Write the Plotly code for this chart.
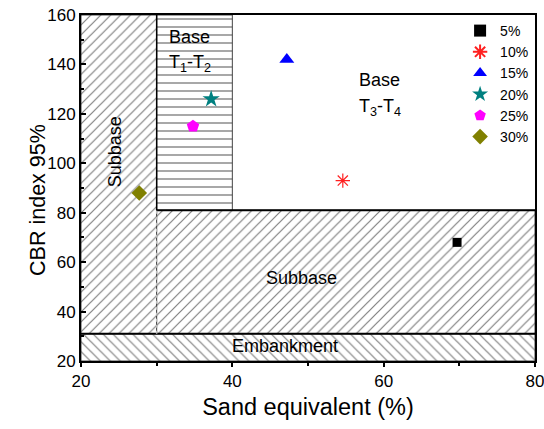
import plotly.graph_objects as go

# ---- data ----
series_names = ["5%", "10%", "15%", "20%", "25%", "30%"]
sand_equivalent = [69.7, 54.6, 47.2, 37.2, 34.8, 27.7]
cbr_index = [68.0, 93.0, 142.0, 126.0, 115.0, 88.0]
symbols = ["square", "asterisk-open", "triangle-up", "star", "pentagon", "diamond"]
colors = ["#000000", "#FF2020", "#0000FF", "#008080", "#FF00FF", "#808000"]
sizes = [9, 12, 13, 13, 13, 12]

# zones: (x0, x1, y0, y1, pattern)
zone_subbase_left = (20, 30, 31, 160, "/")
zone_subbase_low = (30, 80, 31, 81, "/")
zone_embankment = (20, 80, 20, 31, "\\")
zone_base_t12 = (30, 40, 81, 160, "-")
zones = [zone_subbase_left, zone_subbase_low, zone_embankment, zone_base_t12]

x_ticks = [20, 40, 60, 80]
y_ticks = [20, 40, 60, 80, 100, 120, 140, 160]

FONT = "Liberation Sans, Arial, sans-serif"

fig = go.Figure()

for (x0, x1, y0, y1, pat) in zones:
    fig.add_trace(go.Scatter(
        x=[x0, x1, x1, x0, x0], y=[y0, y0, y1, y1, y0],
        mode="lines", fill="toself", fillcolor="white",
        fillpattern=dict(shape=pat, size=7 if pat != "-" else 8, solidity=0.17,
                         fgcolor="black", bgcolor="white"),
        line=dict(color="#444444", width=1),
        showlegend=False, hoverinfo="skip"))

# boundary lines
fig.add_trace(go.Scatter(x=[20, 80], y=[31, 31], mode="lines",
                         line=dict(color="black", width=2),
                         showlegend=False, hoverinfo="skip"))
fig.add_trace(go.Scatter(x=[30, 80], y=[81, 81], mode="lines",
                         line=dict(color="black", width=2),
                         showlegend=False, hoverinfo="skip"))
fig.add_trace(go.Scatter(x=[30, 30], y=[81, 160], mode="lines",
                         line=dict(color="black", width=1.5),
                         showlegend=False, hoverinfo="skip"))
fig.add_trace(go.Scatter(x=[30, 30], y=[31, 81], mode="lines",
                         line=dict(color="#BBBBBB", width=1.5, dash="dot"),
                         showlegend=False, hoverinfo="skip"))

for i, name in enumerate(series_names):
    sym = symbols[i]
    marker = dict(symbol=sym, size=sizes[i], color=colors[i])
    if sym.endswith("-open"):
        marker["line"] = dict(color=colors[i], width=1.2)
    else:
        marker["line"] = dict(width=0)
    fig.add_trace(go.Scatter(x=[sand_equivalent[i]], y=[cbr_index[i]],
                             mode="markers", name=name, marker=marker))

ann_font = dict(family=FONT, size=18, color="black")
annotations = [
    dict(x=34.4, y=151, text="Base", showarrow=False, font=ann_font),
    dict(x=34.4, y=140.5, text="T<sub>1</sub>-T<sub>2</sub>", showarrow=False, font=ann_font),
    dict(x=59.5, y=133.5, text="Base", showarrow=False, font=ann_font),
    dict(x=59.5, y=122.5, text="T<sub>3</sub>-T<sub>4</sub>", showarrow=False, font=ann_font),
    dict(x=24.5, y=104.5, text="Subbase", showarrow=False, textangle=-90, font=ann_font),
    dict(x=49.2, y=53.7, text="Subbase", showarrow=False, font=ann_font),
    dict(x=47.0, y=26.0, text="Embankment", showarrow=False, font=ann_font),
]
for a in annotations:
    a["xref"] = "x"
    a["yref"] = "y"
# y-axis title placed as paper annotation to match reference position
annotations.append(dict(xref="paper", yref="paper", x=-0.126, y=0.465,
                        text="CBR index 95%", showarrow=False, textangle=-90,
                        font=dict(family=FONT, size=21.5, color="black")))
fig.update_layout(annotations=annotations)

fig.update_layout(
    width=544, height=429,
    margin=dict(l=81, r=9, t=15, b=68),
    paper_bgcolor="white", plot_bgcolor="white",
    font=dict(family=FONT, size=17, color="black"),
    legend=dict(x=0.835, y=1.0, xanchor="left", yanchor="top",
                bgcolor="rgba(0,0,0,0)", font=dict(family=FONT, size=14),
                tracegroupgap=0, itemsizing="constant"),
    xaxis=dict(range=[20, 80], tickvals=x_ticks, ticktext=[str(v) for v in x_ticks],
               automargin=False, ticklabeloverflow="allow",
               showline=True, linecolor="black", linewidth=2, mirror=True,
               ticks="outside", ticklen=4, tickwidth=2, tickcolor="black",
               minor=dict(ticks="outside", dtick=10, ticklen=3, tickwidth=2, tickcolor="black"),
               showgrid=False, zeroline=False,
               title=dict(text="Sand equivalent (%)", font=dict(family=FONT, size=23.5), standoff=8),
               tickfont=dict(family=FONT, size=17)),
    yaxis=dict(range=[20, 160], tickvals=y_ticks, ticktext=[str(v) for v in y_ticks],
               automargin=False, ticklabeloverflow="allow",
               showline=True, linecolor="black", linewidth=2, mirror=True,
               ticks="inside", ticklen=5, tickwidth=2, tickcolor="black",
               minor=dict(ticks="inside", dtick=10, ticklen=3, tickwidth=1.5, tickcolor="black"),
               showgrid=False, zeroline=False,
               tickfont=dict(family=FONT, size=17)),
)

fig.write_html("out.html")
